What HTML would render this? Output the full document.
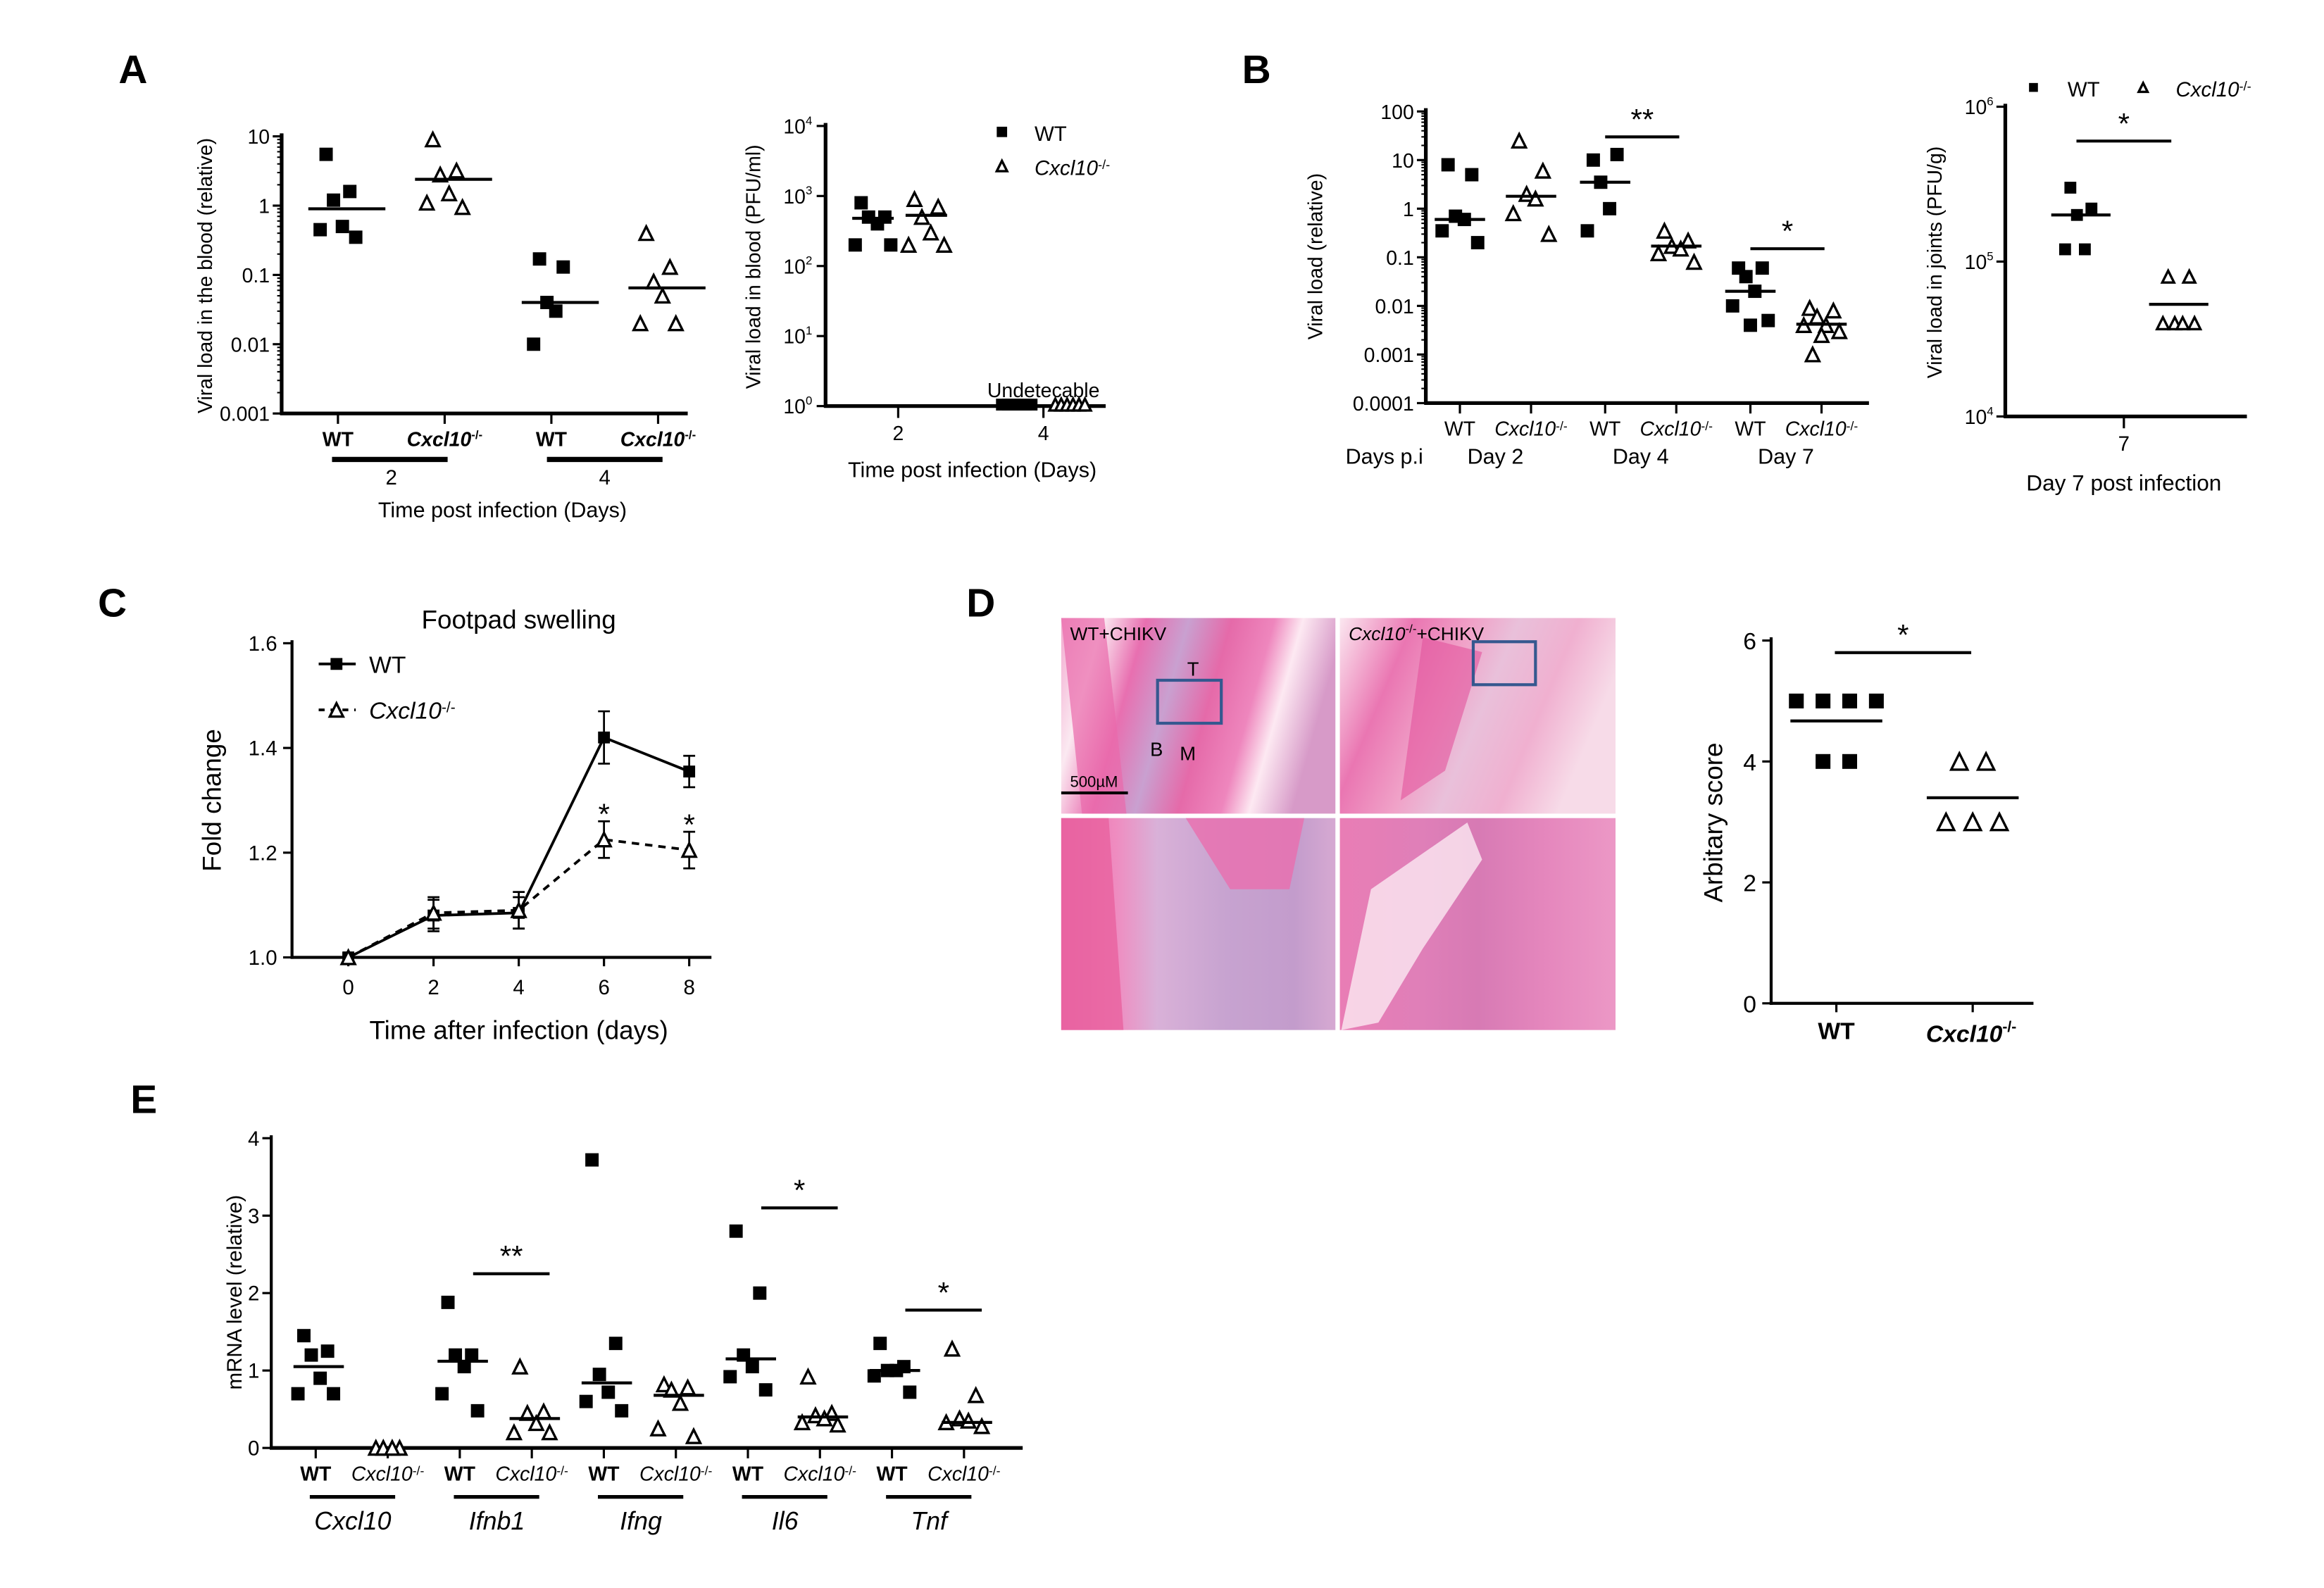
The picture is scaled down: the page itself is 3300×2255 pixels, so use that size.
<!DOCTYPE html>
<html><head><meta charset="utf-8"><style>
html,body{margin:0;padding:0;background:#fff;}
svg{display:block;}
text{font-family:"Liberation Sans",sans-serif;fill:#000;}
.n{font-family:"Liberation Sans Narrow","Liberation Sans",sans-serif;}
</style></head><body>
<svg id="fig" xmlns="http://www.w3.org/2000/svg" width="3300" height="2255" viewBox="0 0 1568 1071.5">
<rect width="1600" height="1100" fill="#fff"/>
<g id="letters">
<text x="80" y="56" font-size="27" font-weight="bold">A</text>
<text x="838" y="56" font-size="27" font-weight="bold">B</text>
<text x="66" y="416" font-size="27" font-weight="bold">C</text>
<text x="652" y="416" font-size="27" font-weight="bold">D</text>
<text x="88" y="751" font-size="27" font-weight="bold">E</text>
</g>
<g id="histo">
<defs>
<linearGradient id="h1" x1="0" y1="0" x2="1" y2="0.2">
<stop offset="0" stop-color="#f2a9cf"/><stop offset="0.15" stop-color="#fbe9f1"/><stop offset="0.3" stop-color="#e86fb0"/><stop offset="0.45" stop-color="#c9a0d0"/><stop offset="0.6" stop-color="#e56aa9"/><stop offset="0.75" stop-color="#ee86bd"/><stop offset="0.85" stop-color="#fde9f2"/><stop offset="1" stop-color="#d79ac8"/></linearGradient>
<linearGradient id="h2" x1="0" y1="0" x2="1" y2="0.3">
<stop offset="0" stop-color="#fbe7f0"/><stop offset="0.25" stop-color="#ea76b2"/><stop offset="0.45" stop-color="#f0a2c8"/><stop offset="0.6" stop-color="#e9c0da"/><stop offset="0.8" stop-color="#f0b0d0"/><stop offset="1" stop-color="#f7dbe8"/></linearGradient>
<linearGradient id="h3" x1="0" y1="0" x2="1" y2="0">
<stop offset="0" stop-color="#e968ab"/><stop offset="0.2" stop-color="#ef8cc0"/><stop offset="0.35" stop-color="#d9b1d8"/><stop offset="0.6" stop-color="#c7a3d0"/><stop offset="0.85" stop-color="#c39ccc"/><stop offset="1" stop-color="#d6a9d2"/></linearGradient>
<linearGradient id="h4" x1="0" y1="0" x2="1" y2="0">
<stop offset="0" stop-color="#e97db5"/><stop offset="0.3" stop-color="#df7fb8"/><stop offset="0.5" stop-color="#d77ab4"/><stop offset="0.75" stop-color="#e587bd"/><stop offset="1" stop-color="#ec98c6"/></linearGradient>
</defs>
<rect x="716" y="417" width="185" height="132" fill="url(#h1)"/>
<rect x="904" y="417" width="186" height="132" fill="url(#h2)"/>
<rect x="716" y="552" width="185" height="143" fill="url(#h3)"/>
<rect x="904" y="552" width="186" height="143" fill="url(#h4)"/>
<path d="M716 417 L745 417 L760 549 L730 549 Z" fill="#e96aab" opacity="0.7"/>
<path d="M716 552 L748 552 L758 695 L716 695 Z" fill="#e9619f" opacity="0.8"/>
<path d="M800 552 L880 552 L870 600 L830 600 Z" fill="#ea6eae" opacity="0.8"/>
<path d="M925 600 L990 555 L1000 580 L960 640 L930 690 L905 695 Z" fill="#fbeaf2" opacity="0.8"/>
<path d="M960 430 L1000 440 L975 520 L945 540 Z" fill="#e2549c" opacity="0.6"/>
<rect x="781" y="459" width="43" height="29" fill="none" stroke="#35588f" stroke-width="2"/>
<rect x="994" y="433" width="42" height="29" fill="none" stroke="#35588f" stroke-width="2"/>
<text x="722" y="432" font-size="12.5">WT+CHIKV</text>
<text x="910" y="432" font-size="12.5"><tspan font-style="italic">Cxcl10</tspan><tspan font-size="8" dy="-5">-/-</tspan><tspan dy="5">+CHIKV</tspan></text>
<text x="801" y="456" font-size="13">T</text>
<text x="776" y="510" font-size="13">B</text>
<text x="796" y="513" font-size="13">M</text>
<text x="722" y="531" font-size="10.5">500µM</text>
<line x1="716" y1="535" x2="761" y2="535" stroke="#000" stroke-width="2"/>
</g>
<g id="charts"></g>
</svg>
<script>
// ---------- DATA ----------
const aLeftGroups = ["WT","Cxcl10","WT","Cxcl10"];
const aLeftWTd2 = [5.5,1.6,1.2,0.5,0.45,0.35];
const aLeftKOd2 = [9,3.2,2.8,1.5,1.1,0.95];
const aLeftWTd4 = [0.17,0.13,0.04,0.03,0.01];
const aLeftKOd4 = [0.4,0.13,0.08,0.05,0.02,0.02];
const aLeftMeans = [0.9,2.4,0.04,0.065];
const aLeftTicks = ["0.001","0.01","0.1","1","10"];
const aRightWTd2 = [800,500,500,400,200,200];
const aRightKOd2 = [900,700,500,300,200,200];
const aRightWTd4 = [1,1,1,1,1,1];
const aRightKOd4 = [1,1,1,1,1,1];
const aRightMeans = [480,530];
const aRightDays = ["2","4"];
const bLeftData = [
  [8,5,0.7,0.6,0.35,0.2],
  [25,6,2,1.6,0.8,0.3],
  [10,13,3.5,1,0.35],
  [0.35,0.22,0.17,0.15,0.12,0.08],
  [0.06,0.06,0.04,0.02,0.01,0.005,0.004],
  [0.009,0.008,0.006,0.004,0.004,0.003,0.0025,0.001]
];
const bLeftMeans = [0.6,1.8,3.5,0.17,0.02,0.0042];
const bLeftTicks = ["0.0001","0.001","0.01","0.1","1","10","100"];
const bLeftDays = ["Day 2","Day 4","Day 7"];
const bRightWT = [3e5,2.2e5,2e5,1.2e5,1.2e5];
const bRightKO = [8e4,8e4,4e4,4e4,4e4,4e4];
const bRightMeans = [2e5,5.3e4];
const cDays = [0,2,4,6,8];
const cWT = [1.0,1.08,1.085,1.42,1.355];
const cWTerr = [0.005,0.03,0.03,0.05,0.03];
const cKO = [1.0,1.085,1.09,1.225,1.205];
const cKOerr = [0.008,0.03,0.035,0.035,0.035];
const cTicks = [1.0,1.2,1.4,1.6];
const dWT = [5,5,5,5,4,4];
const dKO = [4,4,3,3,3];
const dMeans = [4.67,3.4];
const eGenes = ["Cxcl10","Ifnb1","Ifng","Il6","Tnf"];
const eWT = [
  [1.45,1.25,1.2,0.9,0.7,0.7],
  [1.88,1.2,1.2,1.05,0.7,0.48],
  [3.72,1.35,0.95,0.72,0.6,0.48],
  [2.8,2.0,1.2,1.05,0.92,0.75],
  [1.35,1.05,1.0,1.0,0.93,0.72]
];
const eKO = [
  [0,0,0,0],
  [1.05,0.47,0.45,0.32,0.2,0.2],
  [0.82,0.78,0.75,0.58,0.25,0.15],
  [0.92,0.45,0.42,0.38,0.33,0.3],
  [1.28,0.68,0.38,0.35,0.33,0.28]
];
const eWTmeans = [1.05,1.12,0.84,1.15,1.0];
const eKOmeans = [null,0.38,0.68,0.4,0.33];
const eSig = [null,2.25,null,3.1,1.78];
const eSigLabel = ["","**","","*","*"];

// ---------- HELPERS ----------
const NS="http://www.w3.org/2000/svg";
const root=document.getElementById('charts');
function el(tag,attrs,parent,txt){const e=document.createElementNS(NS,tag);for(const k in attrs)e.setAttribute(k,attrs[k]);if(txt!==undefined)e.textContent=txt;(parent||root).appendChild(e);return e;}
function logY(y0,pxDec,minExp){return v=>y0-(Math.log10(v)-minExp)*pxDec;}
function linY(y0,pxUnit,min){return v=>y0-(v-min)*pxUnit;}
function jit(i,n){const p=[-8,8,-3,3,-12,12,0,-6,6];return n===1?0:p[i%p.length];}
function sq(g,x,y,s){const r=el('rect',{x:x-s/2,y:y-s/2,width:s,height:s,fill:'#000'},g);

return r;}
function tri(g,x,y,s){const h=s;const p=el('polygon',{points:`${x},${y-h/2} ${x+s/2},${y+h/2} ${x-s/2},${y+h/2}`,fill:'#fff',stroke:'#000','stroke-width':1.6},g);

return p;}
function scatter(g,cx,vals,fy,kind,s){vals.forEach((v,i)=>{const x=cx+jit(i,vals.length)*(s/9);const y=fy(v);kind==='sq'?sq(g,x,y,s):tri(g,x,y,s);});}
function meanLine(g,cx,y,hw){const l=el('line',{x1:cx-hw,y1:y,x2:cx+hw,y2:y,stroke:'#000','stroke-width':2},g);

}
function sig(g,x1,x2,y,label){const l=el('line',{x1:x1,y1:y,x2:x2,y2:y,stroke:'#000','stroke-width':2},g);


const t=el('text',{x:(x1+x2)/2,y:y-5,'font-size':20,'text-anchor':'middle'},g,label);

}
function line(g,x1,y1,x2,y2,w){return el('line',{x1,y1,x2,y2,stroke:'#000','stroke-width':w||2},g);}
function txt(g,x,y,s,size,opts){const t=el('text',Object.assign({x,y,'font-size':size,'text-anchor':'middle'},opts||{}),g);t.innerHTML=s;return t;}
function ylabel(g,x,y,s,size){const t=el('text',{x:0,y:0,'font-size':size,'text-anchor':'middle',transform:`translate(${x},${y}) rotate(-90)`},g,s);return t;}
const KO='<tspan font-style="italic">Cxcl10</tspan><tspan font-size="0.62em" dy="-0.45em">-/-</tspan>';

// ---------- PANEL A LEFT ----------
{const g=el('g',{});
const fy=logY(279,46.75,-3);const xs=[228,300,372,444];
line(g,190,90,190,280,2.5);line(g,189,279,464,279,2.5);
aLeftTicks.forEach((t,i)=>{const y=fy(Math.pow(10,i-3));line(g,184,y,190,y,1.5);const tt=txt(g,182,y+5,t,13.5,{'text-anchor':'end',class:'n'});

if(i<4)for(let k=2;k<10;k++){const yy=fy(k*Math.pow(10,i-3));line(g,187,yy,190,yy,1);}});
xs.forEach(x=>line(g,x,279,x,286,1.5));
[aLeftWTd2,aLeftKOd2,aLeftWTd4,aLeftKOd4].forEach((d,i)=>{scatter(g,xs[i],d,fy,i%2?'tri':'sq',9);meanLine(g,xs[i]+6,fy(aLeftMeans[i]),26);});
xs.forEach((x,i)=>{const t=txt(g,x,301,i%2?'<tspan font-style="italic">Cxcl10</tspan><tspan font-size="8" dy="-5">-/-</tspan>':'WT',13.5,{'font-weight':'bold',class:'n'});});
line(g,224,310,302,310,3.5);line(g,369,310,447,310,3.5);
txt(g,264,327,'2',14);txt(g,408,327,'4',14);
const xt=txt(g,339,349,'Time post infection (Days)',14.5,{class:'n'});
const yt=ylabel(g,143,186,'Viral load in the blood (relative)',13.5);}

// ---------- PANEL A RIGHT ----------
{const g=el('g',{});
const fy=logY(274,47.25,0);const xs=[606,704];
line(g,557,83,557,275,2.5);line(g,556,274,746,274,2.5);
for(let i=0;i<=4;i++){const y=fy(Math.pow(10,i));line(g,551,y,557,y,1.5);const t=txt(g,548,y+5,`10<tspan font-size="8" dy="-6">${i}</tspan>`,13.5,{'text-anchor':'end',class:'n'});}
xs.forEach((x,i)=>{line(g,x,274,x,282,1.5);txt(g,x,297,aRightDays[i],13.5,{class:'n'});});
scatter(g,589,aRightWTd2,fy,'sq',9);scatter(g,625,aRightKOd2,fy,'tri',9);
meanLine(g,589,fy(aRightMeans[0]),14);meanLine(g,625,fy(aRightMeans[1]),14);
aRightWTd4.forEach((v,i)=>sq(g,676+i*4,fy(v)-1,8));aRightKOd4.forEach((v,i)=>tri(g,712+i*4,fy(v)-1,8));
txt(g,704,268,'Undetecable',13.5,{class:'n'});
const xt=txt(g,656,322,'Time post infection (Days)',14.5,{class:'n'});
const yt=ylabel(g,513,180,'Viral load in blood (PFU/ml)',13.5);
const l1=el('g',{},g);sq(l1,676,89,7);txt(l1,698,95,'WT',14,{'text-anchor':'start',class:'n'});
const l2=el('g',{},g);tri(l2,676,112,7);txt(l2,698,118,KO,14,{'text-anchor':'start',class:'n'});}

// ---------- PANEL B LEFT ----------
{const g=el('g',{});
const fy=logY(272,32.8,-4);const xs=[985,1033,1083,1131,1181,1229];
line(g,962,73,962,273,2.5);line(g,961,272,1261,272,2.5);
bLeftTicks.forEach((t,i)=>{const y=fy(Math.pow(10,i-4));line(g,956,y,962,y,1.5);const tt=txt(g,954,y+5,t,13.5,{'text-anchor':'end',class:'n'});
if(i<6)for(let k=2;k<10;k++){const yy=fy(k*Math.pow(10,i-4));line(g,959,yy,962,yy,1);}});
xs.forEach((x,i)=>{line(g,x,272,x,279,1.5);const t=txt(g,x,294,i%2?KO:'WT',13.5,{class:'n'});});
bLeftData.forEach((d,i)=>{scatter(g,xs[i],d,fy,i%2?'tri':'sq',9);meanLine(g,xs[i],fy(bLeftMeans[i]),17);});
sig(g,1083,1133,fy(30),'**');sig(g,1181,1231,fy(0.15),'*');
txt(g,934,313,'Days p.i',14.5,{class:'n'});
bLeftDays.forEach((d,i)=>txt(g,(xs[2*i]+xs[2*i+1])/2,313,d,14.5,{class:'n'}));
const yt=ylabel(g,892,173,'Viral load (relative)',13.5);}

// ---------- PANEL B RIGHT ----------
{const g=el('g',{});
const fy=logY(281,104.5,4);
line(g,1353,70,1353,282,2.5);line(g,1352,281,1516,281,2.5);
for(let i=4;i<=6;i++){const y=fy(Math.pow(10,i));line(g,1347,y,1353,y,1.5);const t=txt(g,1345,y+5,`10<tspan font-size="8" dy="-6">${i}</tspan>`,13.5,{'text-anchor':'end',class:'n'});}
line(g,1433,281,1433,289,1.5);txt(g,1433,304,'7',14,{class:'n'});
scatter(g,1404,bRightWT,fy,'sq',8);scatter(g,1470,bRightKO,fy,'tri',8);
meanLine(g,1404,fy(bRightMeans[0]),20);meanLine(g,1470,fy(bRightMeans[1]),20);
sig(g,1401,1465,fy(6e5),'*');
txt(g,1433,331,'Day 7 post infection',15,{class:'n'});
const yt=ylabel(g,1310,177,'Viral load in joints (PFU/g)',13.5);
const l1=el('g',{},g);sq(l1,1372,59,6);txt(l1,1395,65,'WT',14,{'text-anchor':'start',class:'n'});
const l2=el('g',{},g);tri(l2,1446,59,6);txt(l2,1468,65,KO,14,{'text-anchor':'start',class:'n'});}

// ---------- PANEL C ----------
{const g=el('g',{});
const fy=linY(646,353.3,1.0);const fx=d=>235+28.75*d;
line(g,197,432,197,647,2);line(g,196,646,480,646,2);
cTicks.forEach(t=>{const y=fy(t);line(g,191,y,197,y,1.5);const tt=txt(g,187,y+5,t.toFixed(1),14,{'text-anchor':'end'});});
cDays.forEach(d=>{line(g,fx(d),646,fx(d),652,1.5);const tt=txt(g,fx(d),671,String(d),14);});
const pWT=el('polyline',{points:cDays.map((d,i)=>fx(d)+','+fy(cWT[i])).join(' '),fill:'none',stroke:'#000','stroke-width':1.8},g);

const pKO=el('polyline',{points:cDays.map((d,i)=>fx(d)+','+fy(cKO[i])).join(' '),fill:'none',stroke:'#000','stroke-width':1.8,'stroke-dasharray':'5,4'},g);

[[cWT,cWTerr],[cKO,cKOerr]].forEach(([v,e])=>cDays.forEach((d,i)=>{const x=fx(d);line(g,x,fy(v[i]+e[i]),x,fy(v[i]-e[i]),1.3);line(g,x-4,fy(v[i]+e[i]),x+4,fy(v[i]+e[i]),1.3);line(g,x-4,fy(v[i]-e[i]),x+4,fy(v[i]-e[i]),1.3);}));
cDays.forEach((d,i)=>{sq(g,fx(d),fy(cWT[i]),8);});
cDays.forEach((d,i)=>{tri(g,fx(d),fy(cKO[i]),9);});
[3,4].forEach(i=>{const t=txt(g,fx(cDays[i]),fy(cKO[i]+cKOerr[i])+2,'*',20);});
const tt=txt(g,350,424,'Footpad swelling',17.5);
const xt=txt(g,350,701,'Time after infection (days)',17.5);
const yt=ylabel(g,149,540,'Fold change',17.5);
const l1=el('g',{},g);line(l1,215,448,240,448,1.8);sq(l1,227,448,8);txt(l1,249,454,'WT',16,{'text-anchor':'start'});
const l2=el('g',{},g);el('line',{x1:215,y1:479,x2:240,y2:479,stroke:'#000','stroke-width':1.8,'stroke-dasharray':'4,4'},l2);tri(l2,227,479,9);txt(l2,249,485,KO,16,{'text-anchor':'start'});}

// ---------- PANEL D SCORE ----------
{const g=el('g',{});
const fy=linY(677,40.8,0);
line(g,1195,430,1195,678,2);line(g,1194,677,1372,677,2);
[0,2,4,6].forEach(t=>{const y=fy(t);line(g,1189,y,1195,y,1.5);const tt=txt(g,1185,y+6,String(t),16,{'text-anchor':'end'});});
[1239,1331].forEach(x=>line(g,x,677,x,683,1.5));
dWT.forEach((v,i)=>{const n=dWT.filter(w=>w===v).length;const k=dWT.slice(0,i).filter(w=>w===v).length;sq(g,1239+(k-(n-1)/2)*18,fy(v),10);});
dKO.forEach((v,i)=>{const n=dKO.filter(w=>w===v).length;const k=dKO.slice(0,i).filter(w=>w===v).length;tri(g,1331+(k-(n-1)/2)*18,fy(v),11);});
meanLine(g,1239,fy(dMeans[0]),31);meanLine(g,1331,fy(dMeans[1]),31);
sig(g,1238,1330,fy(5.8),'*');
txt(g,1239,701,'WT',16,{'font-weight':'bold'});
txt(g,1330,703,'<tspan font-style="italic">Cxcl10</tspan><tspan font-size="10" dy="-7">-/-</tspan>',16,{'font-weight':'bold'});
const yt=ylabel(g,1162,555,'Arbitary score',17.5);}

// ---------- PANEL E ----------
{const g=el('g',{});
const fy=linY(977,52.25,0);
line(g,183,766,183,978,2);line(g,182,977,690,977,2.5);
[0,1,2,3,4].forEach(t=>{const y=fy(t);line(g,177,y,183,y,1.5);const tt=txt(g,175,y+5,String(t),14,{'text-anchor':'end',class:'n'});});
eGenes.forEach((gn,i)=>{const xw=213+i*97.2,xk=xw+48.6;
line(g,xw,977,xw,984,1.5);line(g,xk,977,xk,984,1.5);
scatter(g,xw,eWT[i],fy,'sq',9);scatter(g,xk,eKO[i],fy,'tri',9);
meanLine(g,xw+2,fy(eWTmeans[i]),17);if(eKOmeans[i]!==null)meanLine(g,xk+2,fy(eKOmeans[i]),17);
if(eSig[i]!==null)sig(g,xw+9,xk+12,fy(eSig[i]),eSigLabel[i]);
const a=txt(g,xw,999,'WT',13.5,{'font-weight':'bold',class:'n'});
const b=txt(g,xk,999,KO,13.5,{class:'n'});
line(g,xw-4,1010,xk+5,1010,2.5);
const c=txt(g,xw+25,1032,`<tspan font-style="italic">${gn}</tspan>`,17,{class:'n'});});
const yt=ylabel(g,163,872,'mRNA level (relative)',14);}
</script>
</body></html>
